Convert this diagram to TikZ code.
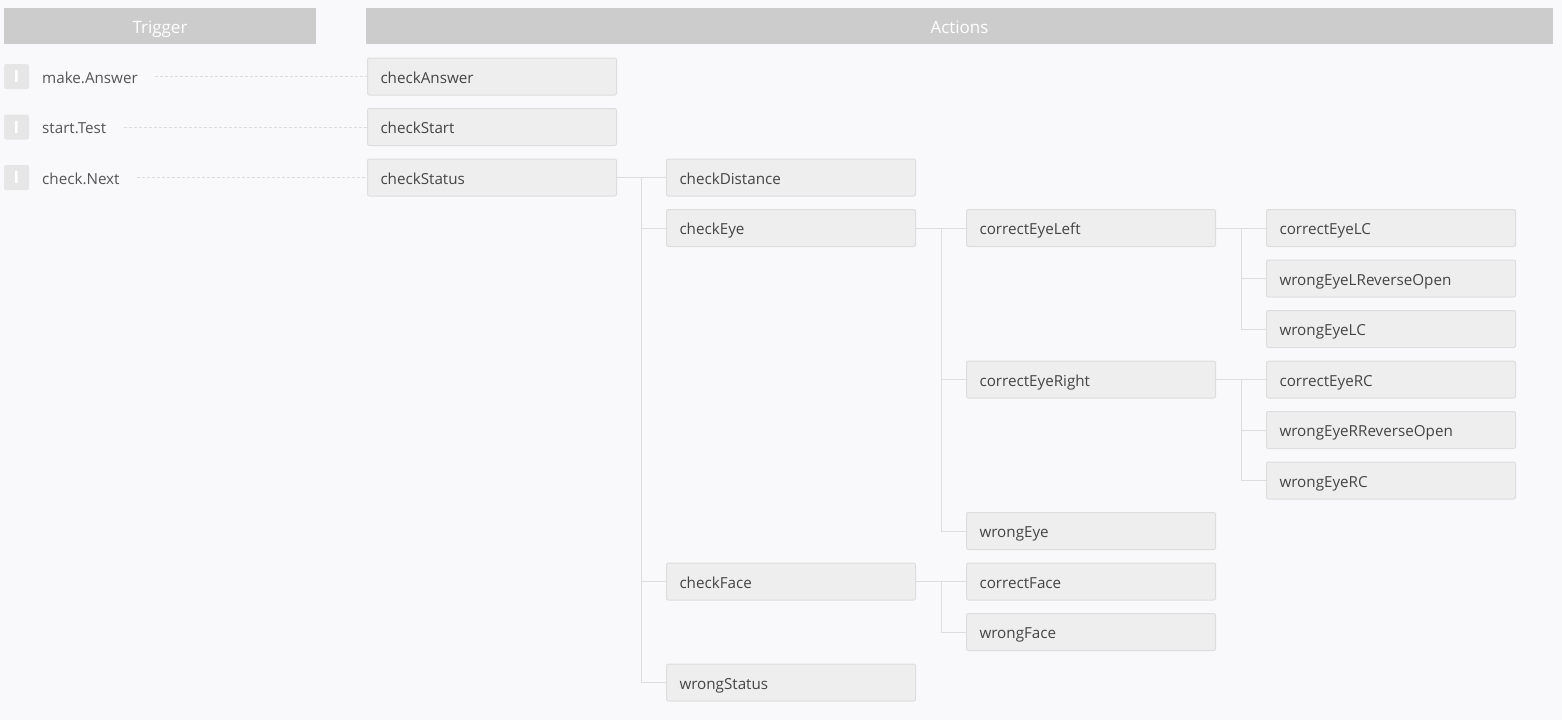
\documentclass[tikz,border=0pt]{standalone}
\usepackage{fontspec}
\setmainfont{Open Sans}
\usetikzlibrary{calc}

\definecolor{pagebg}{HTML}{F9F9FB}
\definecolor{headbg}{HTML}{CCCCCC}
\definecolor{boxbg}{HTML}{EEEEEE}
\definecolor{boxline}{HTML}{DDDDDD}
\definecolor{boxtext}{HTML}{444444}
\definecolor{trigtext}{HTML}{555555}
\definecolor{iconbg}{HTML}{E6E6E6}

\begin{document}
\begin{tikzpicture}[x=1pt, y=-1pt,
  head/.style={fill=headbg, text=white, minimum height=36pt, inner sep=0pt, text height=15pt, text depth=0pt, font=\fontsize{17}{20}\selectfont},
  act/.style={anchor=west, fill=boxbg, draw=boxline, line width=1pt, rounded corners=2pt, minimum height=37pt, text width=223pt, inner xsep=13pt, inner ysep=0pt, text height=13pt, text depth=0pt, align=left, text=boxtext, font=\fontsize{15.2}{18}\selectfont},
  trig/.style={anchor=west, inner sep=0pt, text height=13pt, text depth=0pt, text=trigtext, font=\fontsize{15.2}{18}\selectfont},
  icon/.style={fill=iconbg, rounded corners=2pt, minimum size=25pt, inner sep=0pt, text height=12pt, text depth=0pt, text=white, font=\fontsize{17}{20}\selectfont\bfseries},
  link/.style={draw=boxline, line width=1pt},
  dashlink/.style={draw=boxline, line width=0.8pt, dash pattern=on 3pt off 2pt, shorten <=17pt}]
\fill[pagebg] (0,0) rectangle (1562,720); %page background
\useasboundingbox (0,0) rectangle (1562,720);

% headers
\node[head, minimum width=312pt] (trigHead) at (160,26) {Trigger};
\node[head, minimum width=1187pt] (actHead) at (959.5,26) {Actions};

% triggers
\node[icon] (iconA) at (16.5,76.5) {I};
\node[icon] (iconB) at (16.5,127) {I};
\node[icon] (iconC) at (16.5,177.5) {I};
\node[trig] (makeAnswer) at (42,76.5) {make.Answer};
\node[trig] (startTest) at (42,127) {start.Test};
\node[trig] (checkNext) at (42,177.5) {check.Next};

% first column
\node[act] (checkAnswer) at (367,76.5) {checkAnswer};
\node[act] (checkStart) at (367,127) {checkStart};
\node[act] (checkStatus) at (367,177.5) {checkStatus};

% second column
\node[act] (checkDistance) at (666,177.5) {checkDistance};
\node[act] (checkEye) at (666,228) {checkEye};
\node[act] (checkFace) at (666,581.5) {checkFace};
\node[act] (wrongStatus) at (666,682.5) {wrongStatus};

% third column
\node[act] (correctEyeLeft) at (966,228) {correctEyeLeft};
\node[act] (correctEyeRight) at (966,379.5) {correctEyeRight};
\node[act] (wrongEye) at (966,531) {wrongEye};
\node[act] (correctFace) at (966,581.5) {correctFace};
\node[act] (wrongFace) at (966,632) {wrongFace};

% fourth column
\node[act] (correctEyeLC) at (1266,228) {correctEyeLC};
\node[act] (wrongEyeLReverseOpen) at (1266,278.5) {wrongEyeLReverseOpen};
\node[act] (wrongEyeLC) at (1266,329) {wrongEyeLC};
\node[act] (correctEyeRC) at (1266,379.5) {correctEyeRC};
\node[act] (wrongEyeRReverseOpen) at (1266,430) {wrongEyeRReverseOpen};
\node[act] (wrongEyeRC) at (1266,480.5) {wrongEyeRC};

% trigger to action
\draw[dashlink] (makeAnswer.east) -- (checkAnswer.west);
\draw[dashlink] (startTest.east) -- (checkStart.west);
\draw[dashlink] (checkNext.east) -- (checkStatus.west);

% fork points
\coordinate (statusFork) at ($(checkStatus.east)!0.5!(checkDistance.west)$);
\coordinate (eyeFork) at ($(checkEye.east)!0.5!(correctEyeLeft.west)$);
\coordinate (faceFork) at ($(checkFace.east)!0.5!(correctFace.west)$);
\coordinate (leftFork) at ($(correctEyeLeft.east)!0.5!(correctEyeLC.west)$);
\coordinate (rightFork) at ($(correctEyeRight.east)!0.5!(correctEyeRC.west)$);

% tree lines
\draw[link] (checkStatus.east) -- (checkDistance.west);
\draw[link] (statusFork) |- (checkEye.west);
\draw[link] (statusFork) |- (checkFace.west);
\draw[link] (statusFork) |- (wrongStatus.west);
\draw[link] (checkEye.east) -- (correctEyeLeft.west);
\draw[link] (eyeFork) |- (correctEyeRight.west);
\draw[link] (eyeFork) |- (wrongEye.west);
\draw[link] (checkFace.east) -- (correctFace.west);
\draw[link] (faceFork) |- (wrongFace.west);
\draw[link] (correctEyeLeft.east) -- (correctEyeLC.west);
\draw[link] (leftFork) |- (wrongEyeLReverseOpen.west);
\draw[link] (leftFork) |- (wrongEyeLC.west);
\draw[link] (correctEyeRight.east) -- (correctEyeRC.west);
\draw[link] (rightFork) |- (wrongEyeRReverseOpen.west);
\draw[link] (rightFork) |- (wrongEyeRC.west);
\end{tikzpicture}
\end{document}
